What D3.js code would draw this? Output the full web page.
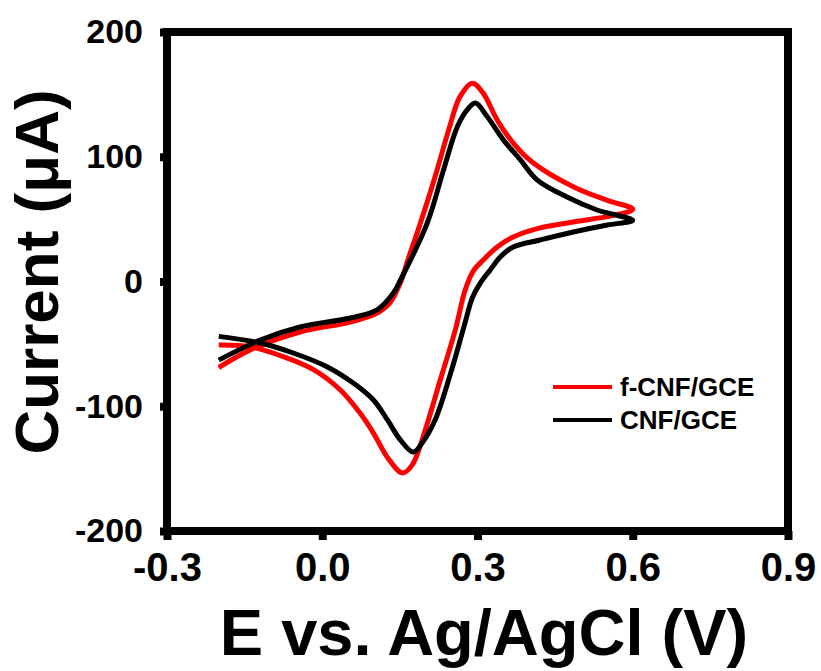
<!DOCTYPE html>
<html>
<head>
<meta charset="utf-8">
<script src="https://cdn.jsdelivr.net/npm/d3@7"></script>
<style>
body{margin:0;background:#fff;}
text{font-family:"Liberation Sans",Arial,sans-serif;font-weight:bold;fill:#000;}
</style>
</head>
<body>
<svg id="svg" width="821" height="671"></svg>
<script>
// x and y ticks
const xTicks=[-0.3,0.0,0.3,0.6,0.9];
const yTicks=[-200,-100,0,100,200];

// f-CNF/GCE : [E (V), I (uA)]  forward then reverse scan
const fcnfE=[-0.2,-0.14,-0.043,0.054,0.106,0.131,0.151,0.166,0.185,0.218,0.244,0.266,0.29,0.311,0.338,0.369,0.408,0.485,0.551,0.6,
             0.562,0.485,0.421,0.369,0.338,0.311,0.292,0.276,0.257,0.228,0.199,0.174,0.155,0.126,0.099,0.073,0.035,-0.017,-0.075,-0.139,-0.2];
const fcnfI=[-69,-55,-40.5,-32.5,-25.3,-17,-1,18,41,84,121,148,159,151,129.5,111,95,76,65,58,
             53,47.7,43,35.7,27.7,17.2,8.5,-7,-39,-79,-119,-147,-153.5,-141,-121.5,-105.5,-87,-70.7,-60.3,-52.3,-51];

// CNF/GCE
const cnfE=[-0.2,-0.12,-0.043,0.054,0.106,0.137,0.151,0.203,0.234,0.261,0.28,0.296,0.319,0.35,0.383,0.415,0.473,0.531,0.6,
            0.551,0.485,0.421,0.369,0.344,0.325,0.305,0.29,0.274,0.247,0.218,0.193,0.176,0.151,0.126,0.099,0.06,0.01,-0.056,-0.12,-0.2];
const cnfI=[-63,-47,-36.5,-29.3,-22.8,-9.5,1,47,89,124,137.5,143,132,113.5,97.5,81.5,67.7,57.3,49,
            45.3,39.7,33.3,27.7,19.6,9.5,-1.5,-13,-36,-75,-111,-129.4,-136.7,-127,-111,-95,-81.4,-68.5,-57.3,-49.3,-44];

const seriesNames=["f-CNF/GCE","CNF/GCE"];
const seriesColors=["#ff0000","#000000"];

const plotLeft=167,plotRight=788,plotTop=32,plotBottom=531;

var svg=d3.select("#svg");

var x=d3.scaleLinear().domain([-0.3,0.9]).range([plotLeft,plotRight]);
var y=d3.scaleLinear().domain([-200,200]).range([plotBottom,plotTop]);

var line=d3.line()
    .x(d=>x(d[0]))
    .y(d=>y(d[1]))
    .curve(d3.curveCatmullRom.alpha(0.5));

var series=[d3.zip(fcnfE,fcnfI),d3.zip(cnfE,cnfI)];

svg.selectAll("path.cv")
    .data(series).enter().append("path")
        .attr("class","cv")
        .attr("d",line)
        .attr("fill","none")
        .attr("stroke",(d,i)=>seriesColors[i])
        .attr("stroke-width",5)
        .attr("stroke-linejoin","round")

//frame
svg.append("rect")
    .attr("x",plotLeft).attr("y",plotTop)
    .attr("width",plotRight-plotLeft).attr("height",plotBottom-plotTop)
    .attr("fill","none")
    .attr("stroke","#000")
    .attr("stroke-width",8)

//hyphen minus like the original
const fmtX=d=>d3.format(".1f")(d).replace("\u2212","-");
const fmtY=d=>d3.format("d")(d).replace("\u2212","-");

//axes
var xAxis=svg.append("g")
    .attr("transform","translate(0,"+plotBottom+")")
    .call(d3.axisBottom(x).tickValues(xTicks).tickFormat(fmtX).tickSize(9).tickPadding(13))
xAxis.select(".domain").remove()
xAxis.selectAll("line").attr("stroke-width",8)
xAxis.selectAll("text").style("font-size","40px")

var yAxis=svg.append("g")
    .attr("transform","translate("+plotLeft+",0)")
    .call(d3.axisLeft(y).tickValues(yTicks).tickFormat(fmtY).tickSize(7).tickPadding(17))
yAxis.select(".domain").remove()
yAxis.selectAll("line").attr("stroke-width",8)
yAxis.selectAll("text").style("font-size","34px")

//axis titles
svg.append("text")
    .attr("x",484).attr("y",655)
    .attr("text-anchor","middle")
    .style("font-size","65px")
    .text("E vs. Ag/AgCl (V)")

svg.append("text")
    .attr("transform","translate(58,272) rotate(-90)")
    .attr("text-anchor","middle")
    .style("font-size","62px")
    .text("Current (μA)")

//legend
var legend=svg.append("g").attr("transform","translate(553,387)")
legend.selectAll("line")
    .data(seriesNames).enter().append("line")
        .attr("x1",0).attr("x2",59)
        .attr("y1",(d,i)=>i*33).attr("y2",(d,i)=>i*33)
        .attr("stroke",(d,i)=>seriesColors[i])
        .attr("stroke-width",4)
legend.selectAll("text")
    .data(seriesNames).enter().append("text")
        .attr("x",67)
        .attr("y",(d,i)=>i*33)
        .attr("dy","0.35em")
        .style("font-size","26px")
        .text(d=>d)
</script>
</body>
</html>
